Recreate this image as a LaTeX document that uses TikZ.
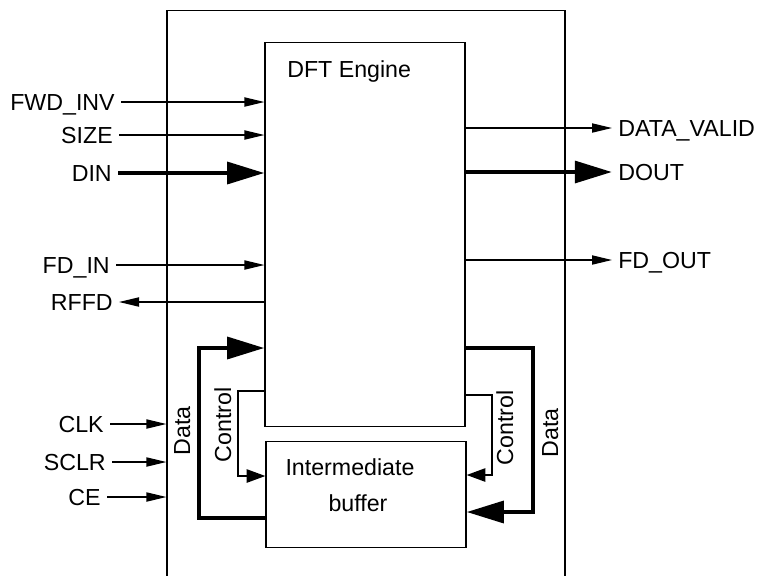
\documentclass[tikz,border=0pt]{standalone}
\usepackage{fontspec}
\setmainfont{Liberation Sans}
\usetikzlibrary{arrows.meta,positioning}

\begin{document}
\begin{tikzpicture}[
x=0.025cm,y=-0.025cm,
font=\fontsize{16.5}{19.5}\selectfont,
blk/.style={draw,line width=0.8pt,inner sep=0pt},
lab/.style={inner ysep=0pt,inner xsep=0.15cm,text height=0.41cm,text depth=0pt},
sig/.style={-{Triangle[length=0.5cm,width=0.23cm]},line width=0.9pt},
ctl/.style={-{Triangle[length=0.47cm,width=0.33cm]},line width=1.5pt},
bus/.style={-{Triangle[length=0.93cm,width=0.54cm]},line width=3.2pt}]
\useasboundingbox (0,0) rectangle (762,575);
% blocks
\node[blk,minimum width=9.95cm,minimum height=14.725cm] (core) at (366,305.5) {};
\node[blk,minimum width=5cm,minimum height=9.6cm] (engine) at (365,234.5) {};
\node[blk,minimum width=5cm,minimum height=2.65cm] (buffer) at (366,494.5) {};
\node[lab,anchor=west,inner xsep=0pt] (engname) at (287,69) {DFT Engine};
\node[lab] (bufname1) at (350,467) {Intermediate};
\node[lab] (bufname2) at (358,503) {buffer};
% ports
\node[lab,anchor=east] (fwdinv) at (121,102) {FWD\_INV};
\node[lab,anchor=east] (size) at (119,135) {SIZE};
\node[lab,anchor=east] (din) at (118,173) {DIN};
\node[lab,anchor=east] (fdin) at (116,265) {FD\_IN};
\node[lab,anchor=east] (rffd) at (119,302) {RFFD};
\node[lab,anchor=east] (clk) at (110,424) {CLK};
\node[lab,anchor=east] (sclr) at (112,462) {SCLR};
\node[lab,anchor=east] (ce) at (107,497) {CE};
\node[lab,anchor=west] (dvalid) at (612,128) {DATA\_VALID};
\node[lab,anchor=west] (dout) at (612,172) {DOUT};
\node[lab,anchor=west] (fdout) at (612,260) {FD\_OUT};
% loop labels
\node[lab,rotate=90] (datal) at (182,431) {Data};
\node[lab,rotate=90] (ctll) at (223,425) {Control};
\node[lab,rotate=90] (ctlr) at (505,428) {Control};
\node[lab,rotate=90] (datar) at (550,433) {Data};
% bends
\coordinate (dlt) at (199,348);
\coordinate (dlb) at (199,518);
\coordinate (clt) at (238,391);
\coordinate (clb) at (238,476);
\coordinate (drt) at (533,348);
\coordinate (drb) at (533,512);
\coordinate (crt) at (492,395);
\coordinate (crb) at (492,475);
% inputs
\draw[sig] (fwdinv.east) -- (fwdinv.east -| engine.west);
\draw[sig] (size.east) -- (size.east -| engine.west);
\draw[bus] (din.east) -- (din.east -| engine.west);
\draw[sig] (fdin.east) -- (fdin.east -| engine.west);
\draw[sig] (rffd.east -| engine.west) -- (rffd.east);
\draw[sig] (clk.east) -- (clk.east -| core.west);
\draw[sig] (sclr.east) -- (sclr.east -| core.west);
\draw[sig] (ce.east) -- (ce.east -| core.west);
% outputs
\draw[sig] (dvalid.west -| engine.east) -- (dvalid.west);
\draw[bus] (dout.west -| engine.east) -- (dout.west);
\draw[sig] (fdout.west -| engine.east) -- (fdout.west);
% engine <-> buffer
\draw[bus] (buffer.west |- dlb) -- (dlb) -- (dlt) -- (engine.west |- dlt);
\draw[ctl] (engine.west |- clt) -- (clt) -- (clb) -- (buffer.west |- clb);
\draw[bus] (engine.east |- drt) -- (drt) -- (drb) -- (buffer.east |- drb);
\draw[ctl] (engine.east |- crt) -- (crt) -- (crb) -- (buffer.east |- crb);
\end{tikzpicture}
\end{document}
